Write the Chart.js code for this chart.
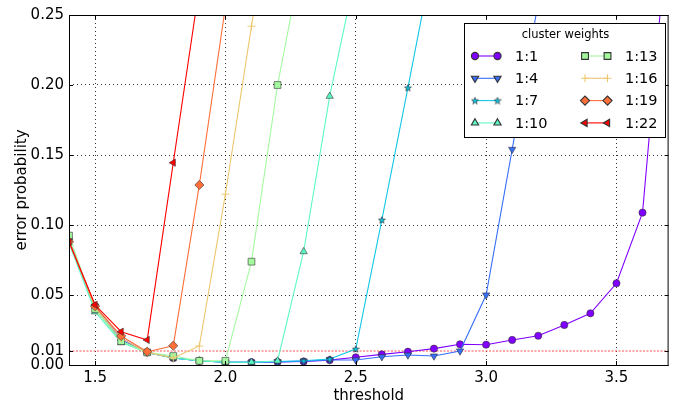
<!DOCTYPE html>
<html>
<head>
<meta charset="utf-8">
<script src="https://cdn.jsdelivr.net/npm/chart.js@4.4.0/dist/chart.umd.min.js"></script>
<style>
html, body { margin: 0; padding: 0; background: #fff; }
</style>
</head>
<body>
<canvas id="graph1" width="674" height="405"></canvas>
<script>
// thresholds on the x axis, one value per step of 0.1
var thresholds = [1.4, 1.5, 1.6, 1.7, 1.8, 1.9, 2.0, 2.1, 2.2, 2.3, 2.4, 2.5,
                  2.6, 2.7, 2.8, 2.9, 3.0, 3.1, 3.2, 3.3, 3.4, 3.5, 3.6, 3.7];

var err_1_1  = [0.089, 0.042, 0.019, 0.009, 0.005, 0.003, 0.002, 0.002, 0.0022, 0.0025, 0.0035, 0.0055,
                0.0076, 0.0095, 0.0117, 0.0148, 0.0145, 0.0179, 0.0209, 0.0286, 0.0369, 0.0584, 0.1088, 0.32];
var err_1_4  = [0.089, 0.042, 0.018, 0.009, 0.005, 0.003, 0.002, 0.002, 0.0022, 0.0028, 0.0036, 0.0036,
                0.0059, 0.0071, 0.0064, 0.010, 0.050, 0.154, 0.259];
var err_1_7  = [0.088, 0.040, 0.017, 0.009, 0.005, 0.003, 0.002, 0.002, 0.0025, 0.003, 0.0043, 0.0114,
                0.1036, 0.198, 0.294];
var err_1_10 = [0.087, 0.038, 0.016, 0.009, 0.005, 0.003, 0.002, 0.002, 0.0029, 0.081, 0.192, 0.28];
var err_1_13 = [0.0924, 0.040, 0.017, 0.009, 0.0064, 0.003, 0.003, 0.0738, 0.200, 0.296];
var err_1_16 = [0.089, 0.041, 0.019, 0.009, 0.005, 0.0136, 0.122, 0.242, 0.36];
var err_1_19 = [0.088, 0.042, 0.0207, 0.0095, 0.0138, 0.1286, 0.256];
var err_1_22 = [0.088, 0.043, 0.0238, 0.0179, 0.1445, 0.27];

var weightLabels = ['1:1', '1:4', '1:7', '1:10', '1:13', '1:16', '1:19', '1:22'];
var xTicks = [1.5, 2.0, 2.5, 3.0, 3.5];
var yTicks = [0.00, 0.01, 0.05, 0.10, 0.15, 0.20, 0.25];
var errorLimit = 0.01;

var FONT = "'DejaVu Sans', sans-serif";

// small filled star marker (matplotlib '*')
function starMarker(color) {
    var c = document.createElement('canvas');
    c.width = 8; c.height = 8;
    var g = c.getContext('2d');
    g.beginPath();
    for (var i = 0; i < 10; i++) {
        var r = (i % 2 === 0) ? 3.6 : 1.5;
        var a = -Math.PI / 2 + i * Math.PI / 5;
        var px = 4 + r * Math.cos(a), py = 4.3 + r * Math.sin(a);
        if (i === 0) g.moveTo(px, py); else g.lineTo(px, py);
    }
    g.closePath();
    g.fillStyle = color;
    g.fill();
    g.lineWidth = 0.6;
    g.strokeStyle = '#222';
    g.stroke();
    return c;
}

var colors = ['#8000ff', '#376ff9', '#12c7e6', '#5bf9c7', '#a4f99f', '#edc76f', '#ff6f39', '#ff0000'];
var styles = [
    { pointStyle: 'circle', radius: 3.6, rotation: 0 },
    { pointStyle: 'triangle', radius: 4.2, rotation: 180 },
    { pointStyle: starMarker(colors[2]), radius: 4, rotation: 0 },
    { pointStyle: 'triangle', radius: 4.2, rotation: 0 },
    { pointStyle: 'rect', radius: 4.8, rotation: 0 },
    { pointStyle: 'cross', radius: 4, rotation: 0 },
    { pointStyle: 'rectRot', radius: 4.6, rotation: 0 },
    { pointStyle: 'triangle', radius: 4.2, rotation: 270 }
];
var allSeries = [err_1_1, err_1_4, err_1_7, err_1_10, err_1_13, err_1_16, err_1_19, err_1_22];

var datasets = [];
allSeries.forEach(function (values, i) {
    datasets.push({
        label: weightLabels[i],
        data: values.map(function (v, j) { return { x: thresholds[j], y: v }; }),
        borderColor: colors[i],
        backgroundColor: colors[i],
        borderWidth: 1.1,
        pointStyle: styles[i].pointStyle,
        pointRadius: styles[i].radius,
        pointRotation: styles[i].rotation,
        pointBackgroundColor: colors[i],
        pointBorderColor: styles[i].pointStyle === 'cross' ? colors[i] : '#333',
        pointBorderWidth: styles[i].pointStyle === 'cross' ? 1 : 0.6,
        tension: 0,
        order: allSeries.length - i
    });
});

// the 0.01 reference line
datasets.push({
    label: 'limit',
    data: [{ x: thresholds[0], y: errorLimit }, { x: thresholds[thresholds.length - 1], y: errorLimit }],
    borderColor: 'rgba(255, 60, 60, 0.45)',
    borderWidth: 2,
    borderDash: [2, 1.5],
    pointRadius: 0,
    order: 20
});

// axes frame and inward tick marks on all four sides
var framePlugin = {
    id: 'frame',
    afterDatasetsDraw: function (chart) {
        var ctx = chart.ctx, a = chart.chartArea;
        var xs = chart.scales.x, ys = chart.scales.y;
        ctx.save();
        ctx.strokeStyle = '#000';
        ctx.lineWidth = 1;
        ctx.strokeRect(a.left + 0.5, a.top + 0.5, a.right - a.left - 1, a.bottom - a.top);
        ctx.beginPath();
        xTicks.forEach(function (t) {
            var px = Math.round(xs.getPixelForValue(t)) + 0.5;
            ctx.moveTo(px, a.bottom); ctx.lineTo(px, a.bottom - 4);
            ctx.moveTo(px, a.top); ctx.lineTo(px, a.top + 4);
        });
        yTicks.forEach(function (t) {
            var py = Math.round(ys.getPixelForValue(t)) + 0.5;
            ctx.moveTo(a.left, py); ctx.lineTo(a.left + 4, py);
            ctx.moveTo(a.right, py); ctx.lineTo(a.right - 4, py);
        });
        ctx.stroke();
        ctx.restore();
    }
};

// two-column legend box like matplotlib's ncol=2
var legendPlugin = {
    id: 'boxLegend',
    afterDraw: function (chart) {
        var ctx = chart.ctx;
        var box = { x: 464.5, y: 23.5, w: 201, h: 114 };
        ctx.save();
        ctx.fillStyle = '#fff';
        ctx.fillRect(box.x, box.y, box.w, box.h);
        ctx.strokeStyle = '#000';
        ctx.lineWidth = 1;
        ctx.strokeRect(box.x, box.y, box.w, box.h);
        ctx.fillStyle = '#000';
        ctx.font = '11.5px ' + FONT;
        ctx.textAlign = 'center';
        ctx.textBaseline = 'middle';
        ctx.fillText('cluster weights', box.x + 101, box.y + 12);
        ctx.font = '14.5px ' + FONT;
        ctx.textAlign = 'left';
        for (var i = 0; i < weightLabels.length; i++) {
            var col = Math.floor(i / 4), row = i % 4;
            var x0 = col === 0 ? 475 : 585;
            var x1 = x0 + 22.5;
            var y = 56 + row * 22.3;
            ctx.strokeStyle = colors[i];
            ctx.lineWidth = 1.1;
            ctx.beginPath();
            ctx.moveTo(x0, y); ctx.lineTo(x1, y);
            ctx.stroke();
            var opt = {
                pointStyle: styles[i].pointStyle,
                radius: styles[i].radius,
                rotation: styles[i].rotation,
                borderWidth: styles[i].pointStyle === 'cross' ? 1 : 0.6
            };
            ctx.fillStyle = colors[i];
            ctx.strokeStyle = styles[i].pointStyle === 'cross' ? colors[i] : '#333';
            Chart.helpers.drawPoint(ctx, opt, x0, y);
            ctx.fillStyle = colors[i];
            ctx.strokeStyle = styles[i].pointStyle === 'cross' ? colors[i] : '#333';
            Chart.helpers.drawPoint(ctx, opt, x1, y);
            ctx.fillStyle = '#000';
            ctx.fillText(weightLabels[i], col === 0 ? 515 : 625, y + 1);
        }
        ctx.restore();
    }
};

var ctx = document.getElementById('graph1').getContext('2d');
var graph1 = new Chart(ctx, {
    type: 'line',
    data: { datasets: datasets },
    options: {
        responsive: false,
        animation: false,
        devicePixelRatio: 1,
        layout: { padding: { top: 15, right: 2, left: 0, bottom: 0 } },
        plugins: {
            legend: { display: false },
            tooltip: { enabled: false }
        },
        scales: {
            x: {
                type: 'linear',
                min: thresholds[0],
                max: thresholds[thresholds.length - 1],
                afterBuildTicks: function (scale) {
                    scale.ticks = xTicks.map(function (v) { return { value: v }; });
                },
                afterFit: function (scale) { scale.height = 40; },
                ticks: {
                    padding: 4,
                    color: '#000',
                    font: { family: FONT, size: 15 },
                    callback: function (v) { return v.toFixed(1); }
                },
                grid: {
                    drawTicks: false,
                    color: '#000',
                    lineWidth: 0.8
                },
                border: { display: false, dash: [1, 3] },
                title: {
                    display: true,
                    text: 'threshold',
                    color: '#000',
                    font: { family: FONT, size: 15 },
                    padding: { top: 0, bottom: 0 }
                }
            },
            y: {
                type: 'linear',
                min: 0,
                max: 0.25,
                afterBuildTicks: function (scale) {
                    scale.ticks = yTicks.map(function (v) { return { value: v }; });
                },
                afterFit: function (scale) { scale.width = 69; },
                ticks: {
                    padding: 5,
                    color: '#000',
                    font: { family: FONT, size: 15 },
                    callback: function (v) { return v.toFixed(2); }
                },
                grid: {
                    drawTicks: false,
                    lineWidth: 0.8,
                    color: function (c) {
                        var v = c.tick ? c.tick.value : 0;
                        if (v < 0.02 || v > 0.24) return 'rgba(0,0,0,0)';
                        return '#000';
                    }
                },
                border: { display: false, dash: [1, 3] },
                title: {
                    display: true,
                    text: 'error probability',
                    color: '#000',
                    font: { family: FONT, size: 15 },
                    padding: { top: 13, bottom: 0 }
                }
            }
        }
    },
    plugins: [framePlugin, legendPlugin]
});
</script>
</body>
</html>
